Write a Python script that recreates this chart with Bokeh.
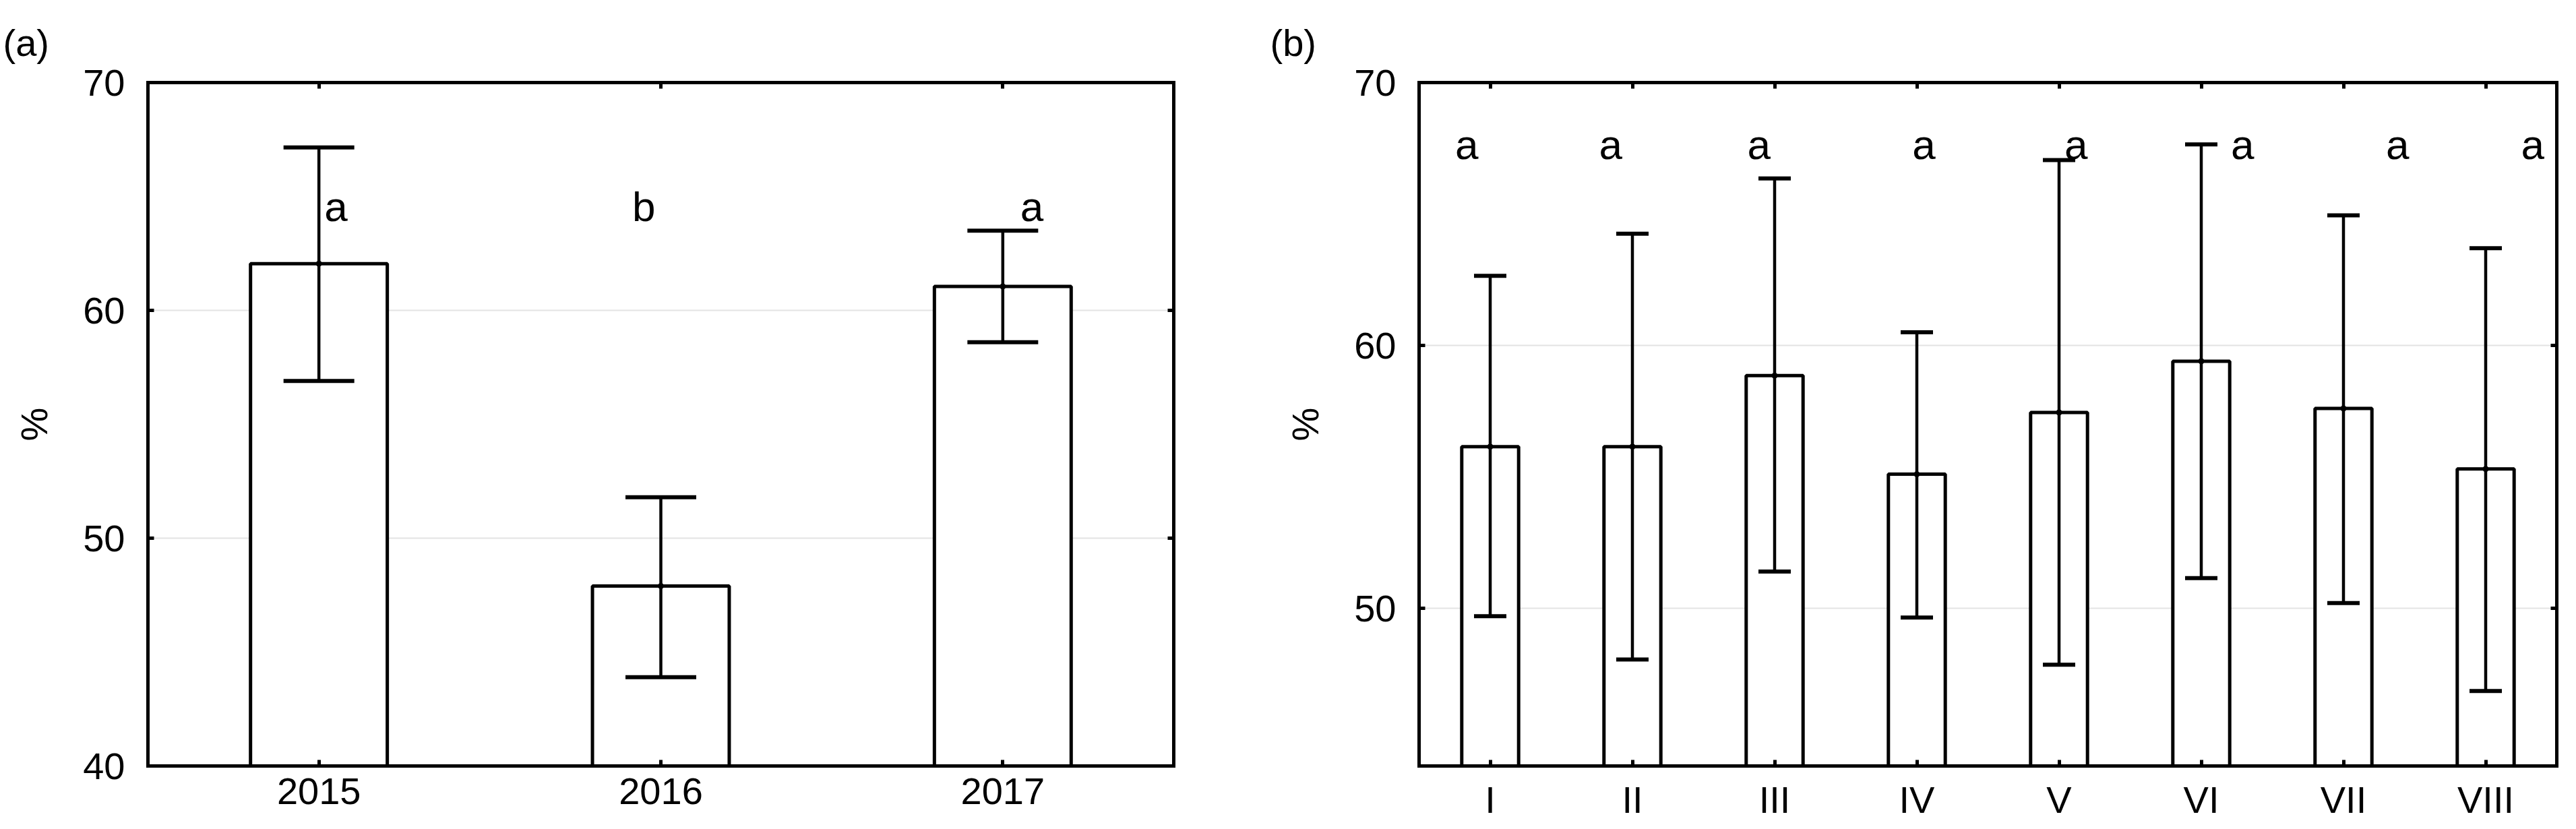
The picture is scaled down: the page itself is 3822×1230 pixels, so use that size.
from bokeh.plotting import figure
from bokeh.models import (ColumnDataSource, Range1d, FixedTicker, Whisker, TeeHead,
                          LinearAxis, CustomJSTickFormatter, Grid)
from bokeh.layouts import row
from bokeh.core.properties import value
from bokeh.embed import file_html
from bokeh.resources import INLINE

# ---------------- data ----------------
years = ["2015", "2016", "2017"]
mean_a = [62.05, 47.9, 61.05]
upper_a = [67.15, 51.8, 63.5]
lower_a = [56.9, 43.9, 58.6]
letters_a = ["a", "b", "a"]

groups_b = ["I", "II", "III", "IV", "V", "VI", "VII", "VIII"]
mean_b = [56.15, 56.15, 58.85, 55.1, 57.45, 59.4, 57.6, 55.3]
upper_b = [62.65, 64.25, 66.35, 60.5, 67.05, 67.65, 64.95, 63.7]
lower_b = [49.7, 48.05, 51.4, 49.65, 47.85, 51.15, 50.2, 46.85]
letters_b = ["a", "a", "a", "a", "a", "a", "a", "a"]

yticks_a = [40, 50, 60, 70]
yticks_b = [50, 60, 70]

# ---------------- layout / style ----------------
FONT = "Liberation Sans"
H = 1230
letter_dx_a = [0.05, -0.05, 0.085]
letter_dx_b = [-0.165, -0.153, -0.11, 0.05, 0.12, 0.29, 0.38, 0.33]


def style_axis(ax):
    ax.axis_line_width = 5
    ax.axis_line_color = "black"
    ax.axis_line_cap = "square"
    ax.major_tick_in = 9
    ax.major_tick_out = 0
    ax.major_tick_line_width = 5
    ax.major_tick_line_color = "black"
    ax.minor_tick_line_color = None
    ax.major_label_text_color = "black"


def blank_axis(ticker):
    ax = LinearAxis(ticker=ticker, formatter=CustomJSTickFormatter(code="return '';"))
    style_axis(ax)
    ax.major_label_standoff = 0
    ax.major_label_text_font_size = "2px"
    return ax


def panel(tag, cats, mean, upper, lower, letters, letter_dx, letter_y,
          y0, y1, yticks, width, bl, br, cap):
    n = len(cats)
    xs = [i + 0.5 for i in range(n)]
    p = figure(width=width, height=H, x_range=Range1d(0, n), y_range=Range1d(y0, y1),
               x_axis_type=None, y_axis_type=None, output_backend="svg",
               toolbar_location=None, min_border_left=bl, min_border_right=br,
               min_border_top=122, min_border_bottom=94, title=tag)
    p.outline_line_color = None

    p.title.text_font = FONT
    p.title.text_font_size = "56px"
    p.title.text_font_style = "normal"
    p.title.text_color = "black"
    p.title.align = "left"
    p.title.vertical_align = "top"
    p.title.offset = -bl + 4
    p.title.standoff = 52

    xt = FixedTicker(ticks=xs)
    yt = FixedTicker(ticks=yticks)

    p.add_layout(Grid(dimension=1, ticker=yt, grid_line_color="#e3e3e3", grid_line_width=2))

    bottom = LinearAxis(ticker=xt,
                        formatter=CustomJSTickFormatter(args=dict(labels=cats),
                                                        code="return labels[Math.floor(tick)];"))
    style_axis(bottom)
    bottom.major_label_text_font = FONT
    bottom.major_label_text_font_size = "56px"
    bottom.major_label_standoff = 18
    p.add_layout(bottom, "below")

    p.add_layout(blank_axis(xt), "above")
    p.add_layout(blank_axis(yt), "right")

    left = LinearAxis(ticker=yt, axis_label="%")
    style_axis(left)
    left.major_label_text_font = FONT
    left.major_label_text_font_size = "56px"
    left.major_label_standoff = 34
    left.axis_label_text_font = FONT
    left.axis_label_text_font_size = "56px"
    left.axis_label_text_font_style = "normal"
    left.axis_label_text_color = "black"
    left.axis_label_standoff = 38
    p.add_layout(left, "left")

    src = ColumnDataSource(dict(x=xs, mean=mean, upper=upper, lower=lower))
    p.vbar(x="x", top="mean", bottom=0, width=0.4, source=src,
           fill_color="white", line_color="black", line_width=5)
    p.scatter(x="x", y="mean", source=src, size=8, color="black")
    p.add_layout(Whisker(base="x", upper="upper", lower="lower", source=src,
                         dimension="height", line_width=4.5, line_color="black",
                         level="annotation",
                         upper_head=TeeHead(size=cap, line_width=6, line_color="black"),
                         lower_head=TeeHead(size=cap, line_width=6, line_color="black")))

    lsrc = ColumnDataSource(dict(x=[x + d for x, d in zip(xs, letter_dx)],
                                 y=[letter_y] * n, t=letters))
    p.text(x="x", y="y", text="t", source=lsrc, text_font=value(FONT),
           text_font_size="62px", text_align="center", text_baseline="middle",
           text_color="black")
    return p


pa = panel("(a)", years, mean_a, upper_a, lower_a, letters_a, letter_dx_a, 64.55,
           40, 70, yticks_a, 1880, 219, 139, 105)
pb = panel("(b)", groups_b, mean_b, upper_b, lower_b, letters_b, letter_dx_b, 67.65,
           44, 70, yticks_b, 1942, 225, 29, 48)

layout = row(pa, pb, spacing=0)
open("out.html", "w").write(file_html(layout, INLINE))
